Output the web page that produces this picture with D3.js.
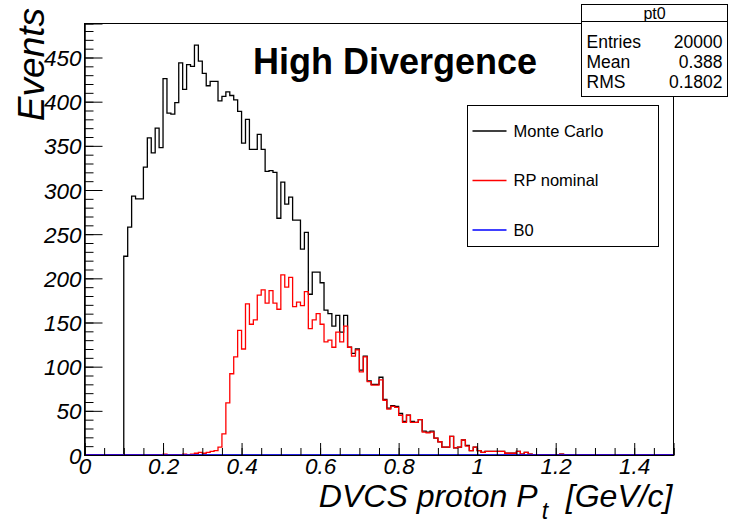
<!DOCTYPE html>
<html>
<head>
<meta charset="utf-8">
<script src="https://cdn.jsdelivr.net/npm/d3@7"></script>
<style>
  body { margin: 0; background: #fff; }
  svg { display: block; font-family: "Liberation Sans", Arial, sans-serif; }
</style>
</head>
<body>
<div id="chart"></div>
<script>
// histogram binning: 150 bins of 0.01 GeV/c between 0 and 1.5
const xMin = 0;
const xMax = 1.5;
const binWidth = 0.01;

// Monte Carlo counts, first filled bin starts at 0.10
const mcStart = 0.10;
const mcCounts = [
  225, 258, 293, 290, 290, 326, 359, 342, 370, 348,
  426, 387, 386, 399, 444, 414, 442, 440, 464, 446,
  432, 418, 423, 423, 401, 406, 411, 407, 402, 389,
  353, 380, 346, 346, 363, 346, 321, 322, 320, 268,
  309, 284, 292, 266, 266, 233, 252, 182, 207, 207,
  195, 164, 160, 146, 158, 139, 158, 122, 115, 120,
  96, 112, 84, 80, 80, 88, 63, 53, 56, 55,
  47, 38, 45, 38, 37, 40, 27, 26, 27, 19,
  15, 9, 9, 21, 8, 9, 17, 11, 5, 9,
  5, 3, 4, 4, 4, 4, 4, 2, 2, 2,
  4, 1, 3, 1, 0, 0, 0, 0, 0, 0,
  0, 1
];

// RP nominal counts, first filled bin starts at 0.20
const rpStart = 0.20;
const rpCounts = [
  1, 0, 0, 0, 0, 1, 0, 1, 2, 3,
  2, 3, 4, 5, 9, 24, 59, 92, 111, 141,
  120, 171, 148, 153, 181, 187, 172, 186, 172, 165,
  204, 190, 201, 168, 173, 169, 185, 143, 153, 160,
  148, 128, 130, 122, 139, 128, 146, 122, 112, 119,
  94, 111, 83, 79, 79, 85, 62, 52, 55, 54,
  45, 37, 45, 37, 37, 40, 26, 25, 26, 19,
  15, 9, 9, 21, 8, 9, 17, 10, 5, 9,
  5, 3, 4, 4, 4, 4, 4, 2, 2, 2,
  4, 1, 3, 1, 0, 0, 0, 0, 0, 0,
  0, 1
];

// B0 counts: empty
const b0Counts = [];

const xTickLabels = [0, 0.2, 0.4, 0.6, 0.8, 1, 1.2, 1.4];
const yTickLabels = [0, 50, 100, 150, 200, 250, 300, 350, 400, 450];
const yMax = 488.5;

const legendEntries = [
  { label: "Monte Carlo", color: "#000000" },
  { label: "RP nominal", color: "#ff0000" },
  { label: "B0", color: "#0000ff" }
];
const statsRows = [
  ["Entries", "20000"],
  ["Mean", "0.388"],
  ["RMS", "0.1802"]
];

const width = 730;
const height = 523;
const frame = { left: 84.5, right: 673.5, top: 23.5, bottom: 455 };

const svg = d3.select("#chart").append("svg").attr("width", width).attr("height", height);

const x = d3.scaleLinear().domain([xMin, xMax]).range([frame.left, frame.right]);
const y = d3.scaleLinear().domain([0, yMax]).range([frame.bottom, frame.top]);

const nBins = Math.round((xMax - xMin) / binWidth);

// expand a partial count list into full bin list
function fullBins(start, counts) {
  const offset = Math.round((start - xMin) / binWidth);
  return d3.range(nBins).map((i) => {
    const v = counts[i - offset];
    return v === undefined ? 0 : v;
  });
}

function stepPoints(bins) {
  const pts = bins.map((c, i) => [xMin + i * binWidth, c]);
  pts.push([xMax, bins[bins.length - 1]]);
  return pts;
}

const stepLine = d3.line().x((d) => x(d[0])).y((d) => y(d[1])).curve(d3.curveStepAfter);

// frame
svg.append("rect")
  .attr("x", frame.left).attr("y", frame.top)
  .attr("width", frame.right - frame.left).attr("height", frame.bottom - frame.top)
  .attr("fill", "none").attr("stroke", "#000").attr("stroke-width", 1);

// histograms
const series = [
  { bins: fullBins(mcStart, mcCounts), color: "#000000" },
  { bins: fullBins(rpStart, rpCounts), color: "#ff0000" },
  { bins: fullBins(xMin, b0Counts), color: "#0000ff" }
];
series.forEach((s) => {
  svg.append("path")
    .attr("d", stepLine(stepPoints(s.bins)))
    .attr("fill", "none")
    .attr("stroke", s.color)
    .attr("stroke-width", 1.3);
});

// axes (ROOT style, ticks pointing inwards)
const tickFont = (g) => g.selectAll("text")
  .style("font-size", "22.5px").style("font-style", "italic").attr("fill", "#000");

const yAxis = svg.append("g").attr("transform", `translate(${frame.left},0)`)
  .call(d3.axisLeft(y).tickValues(yTickLabels).tickSize(-18).tickPadding(3).tickFormat(d3.format("d")));
yAxis.call(tickFont);
yAxis.selectAll("text").attr("dy", "0.36em");
svg.append("g").attr("transform", `translate(${frame.left},0)`)
  .call(d3.axisLeft(y).tickValues(d3.range(0, yMax, 10)).tickSize(-9).tickFormat(""))
  .call((g) => g.selectAll("text").remove());

const xAxis = svg.append("g").attr("transform", `translate(0,${frame.bottom})`)
  .call(d3.axisBottom(x).tickValues(xTickLabels).tickSize(-12).tickPadding(3).tickFormat((d) => d3.format("")(d)));
xAxis.call(tickFont);
svg.append("g").attr("transform", `translate(0,${frame.bottom})`)
  .call(d3.axisBottom(x).tickValues(d3.range(0, xMax + 0.001, 0.05)).tickSize(-7).tickFormat(""))
  .call((g) => g.selectAll("text").remove());

svg.selectAll(".domain").attr("stroke", "#000");
svg.selectAll(".tick line").attr("stroke", "#000");

// axis titles
const xTitle = svg.append("text")
  .attr("x", frame.right - 1).attr("y", 507)
  .attr("text-anchor", "end")
  .style("font-size", "32px").style("font-style", "italic");
xTitle.append("tspan").text("DVCS proton P");
xTitle.append("tspan").attr("dx", 4).attr("dy", 12).style("font-size", "23px").text("t");
xTitle.append("tspan").attr("dy", -12).text("\u00a0\u00a0[GeV/c]");

svg.append("text")
  .attr("transform", `translate(44,8) rotate(-90)`)
  .attr("text-anchor", "end")
  .style("font-size", "37px").style("font-style", "italic")
  .text("Events");

// title
svg.append("text")
  .attr("x", 395).attr("y", 74)
  .attr("text-anchor", "middle")
  .style("font-size", "36px").style("font-weight", "bold")
  .text("High Divergence");

// legend
const leg = { x: 467.5, y: 105.5, w: 191, h: 141 };
svg.append("rect")
  .attr("x", leg.x).attr("y", leg.y).attr("width", leg.w).attr("height", leg.h)
  .attr("fill", "#fff").attr("stroke", "#000");
legendEntries.forEach((e, i) => {
  const cy = leg.y + 25.5 + i * 49.5;
  svg.append("line")
    .attr("x1", leg.x + 5).attr("x2", leg.x + 39).attr("y1", cy).attr("y2", cy)
    .attr("stroke", e.color).attr("stroke-width", 1.3);
  svg.append("text")
    .attr("x", leg.x + 46).attr("y", cy).attr("dy", "0.35em")
    .style("font-size", "16.5px")
    .text(e.label);
});

// stats box
const st = { x: 581.5, y: 4.5, w: 146, h: 92 };
svg.append("rect")
  .attr("x", st.x).attr("y", st.y).attr("width", st.w).attr("height", st.h)
  .attr("fill", "#fff").attr("stroke", "#000");
svg.append("line")
  .attr("x1", st.x).attr("x2", st.x + st.w).attr("y1", st.y + 17).attr("y2", st.y + 17)
  .attr("stroke", "#000");
svg.append("text")
  .attr("x", st.x + st.w / 2).attr("y", st.y + 9).attr("dy", "0.35em")
  .attr("text-anchor", "middle").style("font-size", "16px").text("pt0");
statsRows.forEach((r, i) => {
  const cy = st.y + 37 + i * 20;
  svg.append("text").attr("x", st.x + 5).attr("y", cy).attr("dy", "0.35em")
    .style("font-size", "17.5px").text(r[0]);
  svg.append("text").attr("x", st.x + st.w - 5).attr("y", cy).attr("dy", "0.35em")
    .attr("text-anchor", "end").style("font-size", "17.5px").text(r[1]);
});
</script>
</body>
</html>
